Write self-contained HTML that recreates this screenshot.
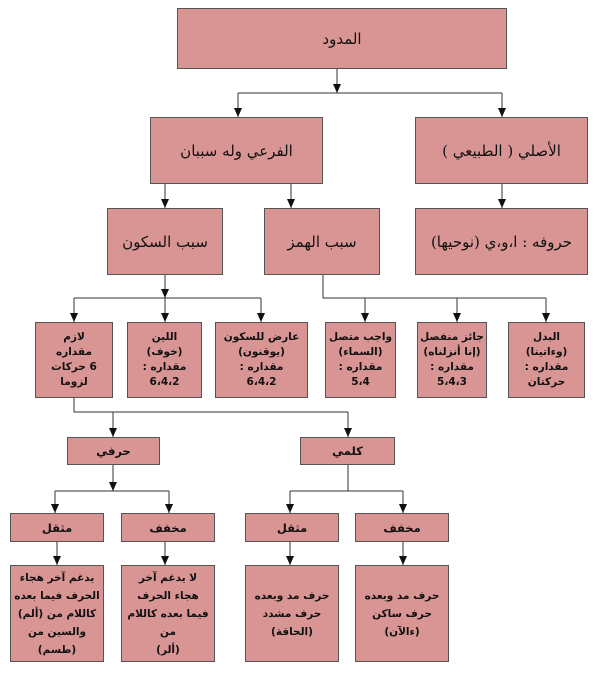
<!DOCTYPE html>
<html><head><meta charset="utf-8"><style>
body{margin:0;width:600px;height:675px;background:#fff;position:relative;overflow:hidden;font-family:"DejaVu Sans",sans-serif}
.b{position:absolute;box-sizing:border-box;background:#d99594;border:1px solid #555;display:flex;align-items:center;justify-content:center;text-align:center;direction:rtl;color:#111}
.s{font-family:"DejaVu Serif","DejaVu Sans",serif;font-size:15px}
.k{font-weight:bold;font-size:10.5px;line-height:15px;white-space:nowrap}
.t{font-weight:bold;font-size:11.5px}
.m{font-weight:bold;font-size:10.5px;line-height:18px;padding:0 3px}
svg{position:absolute;left:0;top:0}
</style></head><body>
<svg width="600" height="675">
<defs><marker id="a" markerWidth="9" markerHeight="8" refX="9" refY="4" orient="auto" markerUnits="userSpaceOnUse"><path d="M0,0 L9,4 L0,8 z" fill="#111"/></marker></defs>
<g stroke="#333" stroke-width="1" fill="none">
<path d="M337,69 V93" marker-end="url(#a)"/>
<path d="M238,93 H502"/>
<path d="M238,93 V117" marker-end="url(#a)"/>
<path d="M502,93 V117" marker-end="url(#a)"/>
<path d="M165,184 V208" marker-end="url(#a)"/>
<path d="M291,184 V208" marker-end="url(#a)"/>
<path d="M502,184 V208" marker-end="url(#a)"/>
<path d="M165,275 V298" marker-end="url(#a)"/>
<path d="M74,298 H261"/>
<path d="M74,298 V322" marker-end="url(#a)"/>
<path d="M165,298 V322" marker-end="url(#a)"/>
<path d="M261,298 V322" marker-end="url(#a)"/>
<path d="M323,275 V298 H546"/>
<path d="M365,298 V322" marker-end="url(#a)"/>
<path d="M457,298 V322" marker-end="url(#a)"/>
<path d="M546,298 V322" marker-end="url(#a)"/>
<path d="M74,398 V412 H348"/>
<path d="M113,412 V437" marker-end="url(#a)"/>
<path d="M348,412 V437" marker-end="url(#a)"/>
<path d="M113,465 V491" marker-end="url(#a)"/>
<path d="M55,491 H169"/>
<path d="M55,491 V513" marker-end="url(#a)"/>
<path d="M169,491 V513" marker-end="url(#a)"/>
<path d="M348,465 V491"/>
<path d="M290,491 H403"/>
<path d="M290,491 V513" marker-end="url(#a)"/>
<path d="M403,491 V513" marker-end="url(#a)"/>
<path d="M57,542 V565" marker-end="url(#a)"/>
<path d="M165,542 V565" marker-end="url(#a)"/>
<path d="M290,542 V565" marker-end="url(#a)"/>
<path d="M403,542 V565" marker-end="url(#a)"/>
</g></svg>
<div class="b s" style="left:177px;top:8px;width:330px;height:61px">المدود</div>
<div class="b s" style="left:150px;top:117px;width:173px;height:67px">الفرعي وله سببان</div>
<div class="b s" style="left:415px;top:117px;width:173px;height:67px">الأصلي ( الطبيعي )</div>
<div class="b s" style="left:107px;top:208px;width:116px;height:67px">سبب السكون</div>
<div class="b s" style="left:264px;top:208px;width:116px;height:67px">سبب الهمز</div>
<div class="b s" style="left:415px;top:208px;width:173px;height:67px">حروفه : ا،و،ي (نوحيها)</div>
<div class="b k" style="left:35px;top:322px;width:78px;height:76px">لازم<br>مقداره<br>6 حركات<br>لزوما</div>
<div class="b k" style="left:127px;top:322px;width:75px;height:76px">اللين<br>(خوف)<br>مقداره :<br>6،4،2</div>
<div class="b k" style="left:215px;top:322px;width:93px;height:76px">عارض للسكون<br>(يوقنون)<br>مقداره :<br>6،4،2</div>
<div class="b k" style="left:325px;top:322px;width:71px;height:76px">واجب متصل<br>(السماء)<br>مقداره :<br>5،4</div>
<div class="b k" style="left:417px;top:322px;width:70px;height:76px">جائز منفصل<br>(إنا أنزلناه)<br>مقداره :<br>5،4،3</div>
<div class="b k" style="left:508px;top:322px;width:77px;height:76px">البدل<br>(وءاتينا)<br>مقداره :<br>حركتان</div>
<div class="b t" style="left:67px;top:437px;width:93px;height:28px">حرفي</div>
<div class="b t" style="left:300px;top:437px;width:95px;height:28px">كلمي</div>
<div class="b t" style="left:10px;top:513px;width:94px;height:29px">مثقل</div>
<div class="b t" style="left:121px;top:513px;width:94px;height:29px">مخفف</div>
<div class="b t" style="left:245px;top:513px;width:94px;height:29px">مثقل</div>
<div class="b t" style="left:355px;top:513px;width:94px;height:29px">مخفف</div>
<div class="b m" style="left:10px;top:565px;width:94px;height:97px">يدغم آخر هجاء الحرف فيما بعده كاللام من (ألم) والسين من (طسم)</div>
<div class="b m" style="left:121px;top:565px;width:94px;height:97px">لا يدغم آخر هجاء الحرف فيما بعده كاللام من<br>(ألر)</div>
<div class="b m" style="left:245px;top:565px;width:94px;height:97px">حرف مد وبعده حرف مشدد (الحاقة)</div>
<div class="b m" style="left:355px;top:565px;width:94px;height:97px">حرف مد وبعده حرف ساكن (ءالآن)</div>
</body></html>
